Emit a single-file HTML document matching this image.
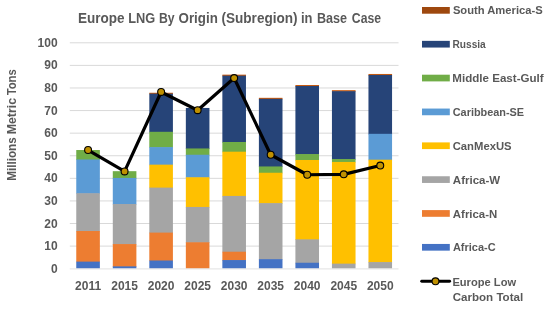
<!DOCTYPE html>
<html><head><meta charset="utf-8"><style>
html,body{margin:0;padding:0;background:#fff;}
svg{display:block;will-change:transform;}
.a{font-family:"Liberation Sans", sans-serif;font-weight:bold;font-size:12px;fill:#595959;}
.b{font-family:"Liberation Sans", sans-serif;font-weight:bold;fill:#595959;}
</style></head><body>
<svg width="550" height="314" viewBox="0 0 550 314">
<rect width="550" height="314" fill="#fff"/>
<line x1="69.8" x2="398.52" y1="246.11" y2="246.11" stroke="#D9D9D9" stroke-width="1"/>
<line x1="69.8" x2="398.52" y1="223.52" y2="223.52" stroke="#D9D9D9" stroke-width="1"/>
<line x1="69.8" x2="398.52" y1="200.93" y2="200.93" stroke="#D9D9D9" stroke-width="1"/>
<line x1="69.8" x2="398.52" y1="178.34" y2="178.34" stroke="#D9D9D9" stroke-width="1"/>
<line x1="69.8" x2="398.52" y1="155.75" y2="155.75" stroke="#D9D9D9" stroke-width="1"/>
<line x1="69.8" x2="398.52" y1="133.16" y2="133.16" stroke="#D9D9D9" stroke-width="1"/>
<line x1="69.8" x2="398.52" y1="110.57" y2="110.57" stroke="#D9D9D9" stroke-width="1"/>
<line x1="69.8" x2="398.52" y1="87.98" y2="87.98" stroke="#D9D9D9" stroke-width="1"/>
<line x1="69.8" x2="398.52" y1="65.39" y2="65.39" stroke="#D9D9D9" stroke-width="1"/>
<line x1="69.8" x2="398.52" y1="42.80" y2="42.80" stroke="#D9D9D9" stroke-width="1"/>
<rect x="76.26" y="150.02" width="23.6" height="10.05" fill="#70AD47"/>
<rect x="76.26" y="159.47" width="23.6" height="34.35" fill="#5B9BD5"/>
<rect x="76.26" y="193.22" width="23.6" height="38.40" fill="#A5A5A5"/>
<rect x="76.26" y="231.02" width="23.6" height="31.20" fill="#ED7D31"/>
<rect x="76.26" y="261.62" width="23.6" height="6.77" fill="#4472C4"/>
<rect x="112.79" y="171.18" width="23.6" height="7.35" fill="#70AD47"/>
<rect x="112.79" y="177.93" width="23.6" height="26.70" fill="#5B9BD5"/>
<rect x="112.79" y="204.02" width="23.6" height="40.65" fill="#A5A5A5"/>
<rect x="112.79" y="244.07" width="23.6" height="22.88" fill="#ED7D31"/>
<rect x="112.79" y="266.35" width="23.6" height="2.05" fill="#4472C4"/>
<rect x="149.31" y="92.76" width="23.6" height="1.50" fill="#C55A11"/>
<rect x="149.31" y="93.66" width="23.6" height="38.74" fill="#264478"/>
<rect x="149.31" y="131.80" width="23.6" height="15.90" fill="#70AD47"/>
<rect x="149.31" y="147.10" width="23.6" height="18.15" fill="#5B9BD5"/>
<rect x="149.31" y="164.65" width="23.6" height="23.55" fill="#FFC000"/>
<rect x="149.31" y="187.60" width="23.6" height="45.60" fill="#A5A5A5"/>
<rect x="149.31" y="232.60" width="23.6" height="28.50" fill="#ED7D31"/>
<rect x="149.31" y="260.50" width="23.6" height="7.90" fill="#4472C4"/>
<rect x="185.84" y="107.95" width="23.6" height="41.10" fill="#264478"/>
<rect x="185.84" y="148.45" width="23.6" height="6.90" fill="#70AD47"/>
<rect x="185.84" y="154.75" width="23.6" height="23.10" fill="#5B9BD5"/>
<rect x="185.84" y="177.25" width="23.6" height="30.30" fill="#FFC000"/>
<rect x="185.84" y="206.95" width="23.6" height="35.92" fill="#A5A5A5"/>
<rect x="185.84" y="242.27" width="23.6" height="26.12" fill="#ED7D31"/>
<rect x="222.36" y="74.65" width="23.6" height="1.61" fill="#C55A11"/>
<rect x="222.36" y="75.66" width="23.6" height="66.93" fill="#264478"/>
<rect x="222.36" y="141.99" width="23.6" height="10.30" fill="#70AD47"/>
<rect x="222.36" y="151.69" width="23.6" height="44.84" fill="#FFC000"/>
<rect x="222.36" y="195.93" width="23.6" height="56.40" fill="#A5A5A5"/>
<rect x="222.36" y="251.72" width="23.6" height="8.93" fill="#ED7D31"/>
<rect x="222.36" y="260.05" width="23.6" height="8.35" fill="#4472C4"/>
<rect x="258.89" y="97.82" width="23.6" height="1.61" fill="#C55A11"/>
<rect x="258.89" y="98.84" width="23.6" height="68.21" fill="#264478"/>
<rect x="258.89" y="166.45" width="23.6" height="6.90" fill="#70AD47"/>
<rect x="258.89" y="172.75" width="23.6" height="30.97" fill="#FFC000"/>
<rect x="258.89" y="203.12" width="23.6" height="56.62" fill="#A5A5A5"/>
<rect x="258.89" y="259.15" width="23.6" height="9.25" fill="#4472C4"/>
<rect x="295.41" y="85.00" width="23.6" height="1.61" fill="#C55A11"/>
<rect x="295.41" y="86.01" width="23.6" height="68.66" fill="#264478"/>
<rect x="295.41" y="154.07" width="23.6" height="6.52" fill="#70AD47"/>
<rect x="295.41" y="159.99" width="23.6" height="79.96" fill="#FFC000"/>
<rect x="295.41" y="239.35" width="23.6" height="24.00" fill="#A5A5A5"/>
<rect x="295.41" y="262.75" width="23.6" height="5.65" fill="#4472C4"/>
<rect x="331.94" y="90.17" width="23.6" height="1.61" fill="#C55A11"/>
<rect x="331.94" y="91.19" width="23.6" height="68.44" fill="#264478"/>
<rect x="331.94" y="159.02" width="23.6" height="3.53" fill="#70AD47"/>
<rect x="331.94" y="161.95" width="23.6" height="102.30" fill="#FFC000"/>
<rect x="331.94" y="263.65" width="23.6" height="4.75" fill="#A5A5A5"/>
<rect x="368.46" y="73.97" width="23.6" height="1.61" fill="#C55A11"/>
<rect x="368.46" y="74.99" width="23.6" height="59.44" fill="#264478"/>
<rect x="368.46" y="133.82" width="23.6" height="26.47" fill="#5B9BD5"/>
<rect x="368.46" y="159.70" width="23.6" height="102.98" fill="#FFC000"/>
<rect x="368.46" y="262.07" width="23.6" height="6.32" fill="#A5A5A5"/>
<line x1="69.8" x2="398.52" y1="268.9" y2="268.9" stroke="#D9D9D9" stroke-width="0.8"/>
<polyline points="88.06,150.02 124.59,171.40 161.11,91.97 197.64,110.20 234.16,78.03 270.69,154.75 307.21,174.77 343.74,174.32 380.26,165.55" fill="none" stroke="#000" stroke-width="3.2" stroke-linejoin="round" stroke-linecap="round"/>
<circle cx="88.06" cy="150.02" r="3.45" fill="#BF9000" stroke="#000" stroke-width="1.1"/>
<circle cx="124.59" cy="171.40" r="3.45" fill="#BF9000" stroke="#000" stroke-width="1.1"/>
<circle cx="161.11" cy="91.97" r="3.45" fill="#BF9000" stroke="#000" stroke-width="1.1"/>
<circle cx="197.64" cy="110.20" r="3.45" fill="#BF9000" stroke="#000" stroke-width="1.1"/>
<circle cx="234.16" cy="78.03" r="3.45" fill="#BF9000" stroke="#000" stroke-width="1.1"/>
<circle cx="270.69" cy="154.75" r="3.45" fill="#BF9000" stroke="#000" stroke-width="1.1"/>
<circle cx="307.21" cy="174.77" r="3.45" fill="#BF9000" stroke="#000" stroke-width="1.1"/>
<circle cx="343.74" cy="174.32" r="3.45" fill="#BF9000" stroke="#000" stroke-width="1.1"/>
<circle cx="380.26" cy="165.55" r="3.45" fill="#BF9000" stroke="#000" stroke-width="1.1"/>
<text x="57.6" y="272.70" text-anchor="end" class="a">0</text>
<text x="57.6" y="250.11" text-anchor="end" class="a">10</text>
<text x="57.6" y="227.52" text-anchor="end" class="a">20</text>
<text x="57.6" y="204.93" text-anchor="end" class="a">30</text>
<text x="57.6" y="182.34" text-anchor="end" class="a">40</text>
<text x="57.6" y="159.75" text-anchor="end" class="a">50</text>
<text x="57.6" y="137.16" text-anchor="end" class="a">60</text>
<text x="57.6" y="114.57" text-anchor="end" class="a">70</text>
<text x="57.6" y="91.98" text-anchor="end" class="a">80</text>
<text x="57.6" y="69.39" text-anchor="end" class="a">90</text>
<text x="57.6" y="46.80" text-anchor="end" class="a">100</text>
<text x="88.06" y="289.8" text-anchor="middle" class="a">2011</text>
<text x="124.59" y="289.8" text-anchor="middle" class="a">2015</text>
<text x="161.11" y="289.8" text-anchor="middle" class="a">2020</text>
<text x="197.64" y="289.8" text-anchor="middle" class="a">2025</text>
<text x="234.16" y="289.8" text-anchor="middle" class="a">2030</text>
<text x="270.69" y="289.8" text-anchor="middle" class="a">2035</text>
<text x="307.21" y="289.8" text-anchor="middle" class="a">2040</text>
<text x="343.74" y="289.8" text-anchor="middle" class="a">2045</text>
<text x="380.26" y="289.8" text-anchor="middle" class="a">2050</text>
<rect x="422" y="7.00" width="27.8" height="6.7" fill="#9E480E"/>
<rect x="422" y="40.85" width="27.8" height="6.7" fill="#264478"/>
<rect x="422" y="74.70" width="27.8" height="6.7" fill="#70AD47"/>
<rect x="422" y="108.55" width="27.8" height="6.7" fill="#5B9BD5"/>
<rect x="422" y="142.40" width="27.8" height="6.7" fill="#FFC000"/>
<rect x="422" y="176.25" width="27.8" height="6.7" fill="#A5A5A5"/>
<rect x="422" y="210.10" width="27.8" height="6.7" fill="#ED7D31"/>
<rect x="422" y="243.95" width="27.8" height="6.7" fill="#4472C4"/>
<line x1="421.7" x2="449.6" y1="281.3" y2="281.3" stroke="#000" stroke-width="2.9" stroke-linecap="round"/>
<circle cx="435.5" cy="281.3" r="3.45" fill="#BF9000" stroke="#000" stroke-width="1.1"/>
<text x="77.94" y="22.70" textLength="46.60" lengthAdjust="spacingAndGlyphs" style="font-size:14.1px" class="b">Europe</text>
<text x="128.14" y="22.70" textLength="26.99" lengthAdjust="spacingAndGlyphs" style="font-size:14.1px" class="b">LNG</text>
<text x="159.03" y="22.70" textLength="15.64" lengthAdjust="spacingAndGlyphs" style="font-size:14.1px" class="b">By</text>
<text x="178.53" y="22.70" textLength="39.26" lengthAdjust="spacingAndGlyphs" style="font-size:14.1px" class="b">Origin</text>
<text x="221.46" y="22.70" textLength="76.16" lengthAdjust="spacingAndGlyphs" style="font-size:14.1px" class="b">(Subregion)</text>
<text x="300.88" y="22.70" textLength="11.51" lengthAdjust="spacingAndGlyphs" style="font-size:14.1px" class="b">in</text>
<text x="317.01" y="22.70" textLength="30.07" lengthAdjust="spacingAndGlyphs" style="font-size:14.1px" class="b">Base</text>
<text x="351.87" y="22.70" textLength="29.20" lengthAdjust="spacingAndGlyphs" style="font-size:14.1px" class="b">Case</text>
<text x="452.88" y="14.10" textLength="89.79" lengthAdjust="spacingAndGlyphs" style="font-size:11.6px" class="b">South America-S</text>
<text x="452.47" y="48.01" textLength="33.31" lengthAdjust="spacingAndGlyphs" style="font-size:11.6px" class="b">Russia</text>
<text x="452.37" y="81.92" textLength="91.30" lengthAdjust="spacingAndGlyphs" style="font-size:11.6px" class="b">Middle East-Gulf</text>
<text x="452.73" y="115.83" textLength="71.41" lengthAdjust="spacingAndGlyphs" style="font-size:11.6px" class="b">Caribbean-SE</text>
<text x="452.71" y="149.74" textLength="58.87" lengthAdjust="spacingAndGlyphs" style="font-size:11.6px" class="b">CanMexUS</text>
<text x="452.87" y="183.65" textLength="47.24" lengthAdjust="spacingAndGlyphs" style="font-size:11.6px" class="b">Africa-W</text>
<text x="452.87" y="217.56" textLength="44.39" lengthAdjust="spacingAndGlyphs" style="font-size:11.6px" class="b">Africa-N</text>
<text x="452.88" y="251.47" textLength="42.74" lengthAdjust="spacingAndGlyphs" style="font-size:11.6px" class="b">Africa-C</text>
<text x="452.40" y="285.80" textLength="63.71" lengthAdjust="spacingAndGlyphs" style="font-size:11.6px" class="b">Europe Low</text>
<text x="452.70" y="300.90" textLength="70.50" lengthAdjust="spacingAndGlyphs" style="font-size:11.6px" class="b">Carbon Total</text>
<text transform="translate(15.6,180.80) rotate(-90)" textLength="43.52" lengthAdjust="spacingAndGlyphs" style="font-size:12.2px" class="b">Millions</text>
<text transform="translate(15.6,134.34) rotate(-90)" textLength="36.36" lengthAdjust="spacingAndGlyphs" style="font-size:12.2px" class="b">Metric</text>
<text transform="translate(15.6,95.35) rotate(-90)" textLength="26.06" lengthAdjust="spacingAndGlyphs" style="font-size:12.2px" class="b">Tons</text>
</svg>
</body></html>
